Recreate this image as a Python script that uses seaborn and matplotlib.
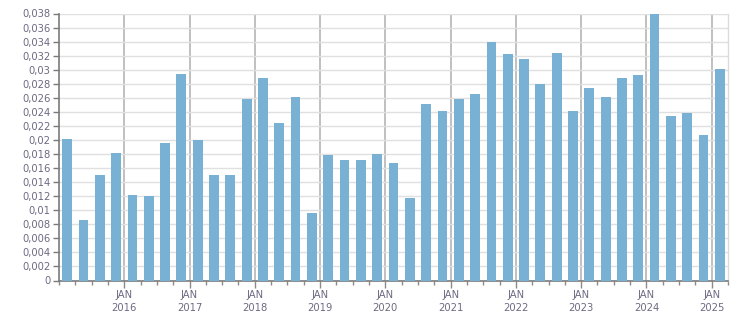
import matplotlib
matplotlib.use("Agg")
import matplotlib.pyplot as plt
from matplotlib.ticker import FixedLocator, FuncFormatter, MultipleLocator
import seaborn as sns
import pandas as pd

# Quarterly values, Q1 2015 .. Q1 2025
quarters = [f"{y}Q{q}" for y in range(2015, 2026) for q in range(1, 5)][:41]
values = [
    0.0202, 0.0086, 0.0150, 0.0181, 0.0121, 0.0120, 0.0195, 0.0294,
    0.0200, 0.0150, 0.0150, 0.0259, 0.0288, 0.0224, 0.0261, 0.0096,
    0.0178, 0.0171, 0.0172, 0.0180, 0.0167, 0.0118, 0.0251, 0.0241,
    0.0259, 0.0266, 0.0339, 0.0322, 0.0315, 0.0279, 0.0324, 0.0241,
    0.0274, 0.0261, 0.0288, 0.0292, 0.0390, 0.0234, 0.0239, 0.0207,
    0.0301,
]
year_ticks = list(range(2016, 2026))
year_labels = [f"JAN\n{y}" for y in year_ticks]

# position of each bar: middle of its quarter, in fractional years
pos = [int(q[:4]) + (int(q[-1]) - 1) * 0.25 + 0.125 for q in quarters]
df = pd.DataFrame({"pos": pos, "value": values})

sns.set_style("white")
plt.rcParams["font.family"] = ["DejaVu Sans"]

fig = plt.figure(figsize=(7.51, 3.13), dpi=100)
ax = fig.add_axes([59 / 751, 1 - 280.5 / 313, (728 - 59) / 751, (280.5 - 13.5) / 313])

sns.barplot(data=df, x="pos", y="value", native_scale=True, width=0.6,
            color="#78b1d3", saturation=1, linewidth=0, ax=ax, zorder=3)

ax.set_xlim(2015.0, 2025.25)
ax.set_ylim(0, 0.038)
ax.set_xlabel("")
ax.set_ylabel("")

ax.xaxis.set_major_locator(FixedLocator(year_ticks))
ax.set_xticklabels(year_labels, linespacing=1.4)
ax.xaxis.set_minor_locator(MultipleLocator(0.25))
ax.yaxis.set_major_locator(MultipleLocator(0.002))


def yfmt(v, _):
    s = f"{v:.3f}".rstrip("0").rstrip(".")
    return s.replace(".", ",")


ax.yaxis.set_major_formatter(FuncFormatter(yfmt))

txt = "#6d6a82"
ax.tick_params(axis="y", which="major", length=4, width=1, color="#7a7a7a",
               labelsize=7.2, labelcolor=txt, pad=2, left=True)
ax.tick_params(axis="x", which="major", length=5, width=1, color="#8a8a8a",
               labelsize=7.2, labelcolor=txt, pad=1.5, bottom=True)
ax.tick_params(axis="x", which="minor", length=3, width=1, color="#8a8a8a",
               bottom=True)
ax.tick_params(axis="y", which="minor", left=False)

ax.grid(axis="y", which="major", color="#e0e0e0", linewidth=1, zorder=0)
ax.grid(axis="x", which="major", color="#b5b5b5", linewidth=1.2, zorder=1)
ax.set_axisbelow(True)

for s in ["left", "bottom"]:
    ax.spines[s].set_color("#7a7a7a")
    ax.spines[s].set_linewidth(1.2)
ax.spines["top"].set_visible(False)
ax.spines["right"].set_color("#dcdcdc")
ax.spines["right"].set_linewidth(1)

fig.savefig("out.png", dpi=100)
